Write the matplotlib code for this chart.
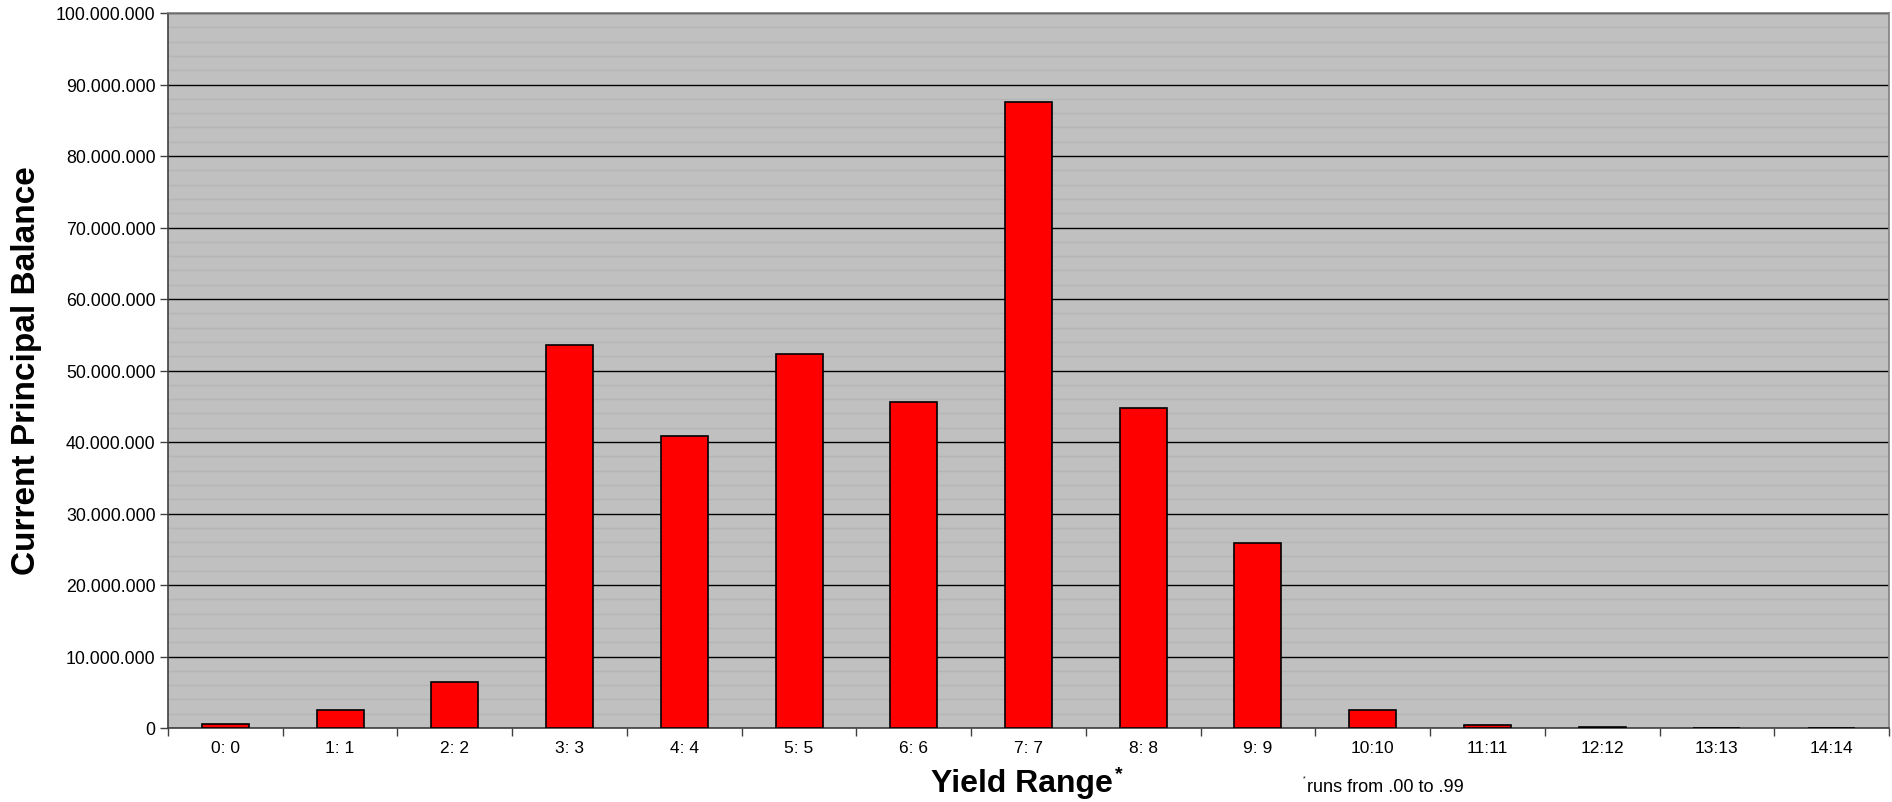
import matplotlib
matplotlib.use("Agg")
import matplotlib.pyplot as plt
from matplotlib.ticker import FuncFormatter, MultipleLocator, FixedLocator, NullFormatter
import numpy as np

plt.rcParams['font.family'] = ['Liberation Sans', 'DejaVu Sans']

categories = ["0: 0", "1: 1", "2: 2", "3: 3", "4: 4", "5: 5", "6: 6", "7: 7",
              "8: 8", "9: 9", "10:10", "11:11", "12:12", "13:13", "14:14"]
balances = [0.55e6, 2.47e6, 6.4e6, 53.6e6, 40.8e6, 52.3e6, 45.6e6, 87.6e6,
            44.8e6, 25.9e6, 2.56e6, 0.4e6, 0.15e6, 0.0, 0.0]
y_max = 100e6
y_major = 10e6
y_minor = 2e6

W, H, DPI = 1892, 803, 100
fig = plt.figure(figsize=(W / DPI, H / DPI), dpi=DPI)
ax = fig.add_axes([168 / W, 1 - 729 / H, (1889 - 168) / W, (729 - 14) / H])
ax.set_facecolor("#C0C0C0")

x = np.arange(len(categories))
ax.bar(x, balances, width=0.41, color="#FF0000", edgecolor="black",
       linewidth=1.2, zorder=3)

ax.set_xlim(-0.5, len(categories) - 0.5)
ax.set_ylim(0, y_max)

# y axis: major ticks with dotted thousands separators, minor grid lines
ax.yaxis.set_major_locator(MultipleLocator(y_major))
ax.yaxis.set_minor_locator(MultipleLocator(y_minor))
ax.yaxis.set_major_formatter(FuncFormatter(lambda v, p: f"{int(round(v)):,}".replace(",", ".")))
ax.grid(axis="y", which="major", color="black", linewidth=1.0, zorder=1)
ax.grid(axis="y", which="minor", color="#B5B5B5", linewidth=1.0, zorder=0.5)
ax.tick_params(axis="y", which="major", length=6, width=1, color="#404040",
               labelsize=12.8, pad=3)
ax.tick_params(axis="y", which="minor", length=0)

# x axis: ticks between categories, labels centred under the bars
ax.xaxis.set_major_locator(FixedLocator(np.arange(len(categories) + 1) - 0.5))
ax.xaxis.set_major_formatter(NullFormatter())
ax.set_xticks(x, minor=True)
ax.set_xticklabels(categories, minor=True)
ax.tick_params(axis="x", which="major", length=6, width=1, color="#404040")
ax.tick_params(axis="x", which="minor", length=0, labelsize=12.5, pad=9)

for side in ["left", "bottom"]:
    ax.spines[side].set_color("#404040")
    ax.spines[side].set_linewidth(1.2)
for side in ["top", "right"]:
    ax.spines[side].set_color("#808080")
    ax.spines[side].set_linewidth(1.2)

fig.text(27 / W, 1 - 371 / H, "Current Principal Balance", rotation=90,
         fontsize=24, fontweight="bold", ha="center", va="center")

fig.text(1022 / W, 1 - 792 / H, "Yield Range", fontsize=23,
         fontweight="bold", ha="center", va="baseline")
fig.text(1115 / W, 1 - 779 / H, "*", fontsize=14, fontweight="bold",
         ha="left", va="baseline")

fig.text(1307 / W, 1 - 792 / H, "runs from .00 to .99", fontsize=13.1,
         ha="left", va="baseline")
fig.text(1306 / W, 1 - 780 / H, "*", fontsize=5, ha="right", va="baseline")

fig.savefig("out.png", dpi=DPI)
